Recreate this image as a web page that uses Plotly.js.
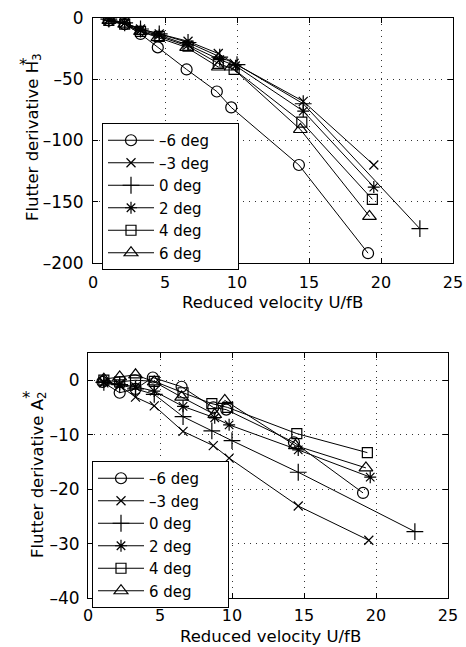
<!DOCTYPE html>
<html>
<head>
<meta charset="utf-8">
<script src="https://cdn.plot.ly/plotly-3.0.1.min.js"></script>
<style>html,body{margin:0;padding:0;background:#fff;}#chart{width:466px;height:647px;}</style>
</head>
<body>
<div id="chart"></div>
<script>
// Series labels
const seriesNames = ["\u20136 deg", "\u20133 deg", "0 deg", "2 deg", "4 deg", "6 deg"];

// Top panel: H3* vs reduced velocity
const h3_m6_x = [1.1, 2.2, 3.3, 4.5, 6.5, 8.6, 9.6, 14.3, 19.1];
const h3_m6_y = [-2, -5, -13, -24, -42, -60, -73, -120, -192];
const h3_m3_x = [1.1, 2.2, 3.3, 4.6, 6.6, 8.7, 9.8, 14.6, 19.5];
const h3_m3_y = [-1, -4, -9, -13, -19, -29, -37, -68, -120];
const h3_0_x  = [1.1, 2.2, 3.3, 4.6, 6.6, 8.8, 10.0, 14.6, 22.7];
const h3_0_y  = [-1, -4, -9, -13, -20, -32, -38, -70, -172];
const h3_2_x  = [1.1, 2.2, 3.3, 4.6, 6.6, 8.8, 9.9, 14.6, 19.5];
const h3_2_y  = [-2, -4, -10, -14, -22, -34, -39, -76, -138];
const h3_4_x  = [1.1, 2.2, 3.3, 4.6, 6.6, 8.7, 9.8, 14.5, 19.4];
const h3_4_y  = [-2, -5, -11, -15, -23, -37, -42, -85, -148];
const h3_6_x  = [1.1, 2.2, 3.3, 4.5, 6.5, 8.7, 9.6, 14.4, 19.2];
const h3_6_y  = [-2, -5, -11, -16, -24, -40, -40, -91, -162];

// Bottom panel: A2* vs reduced velocity
const a2_m6_x = [1.0, 2.2, 3.3, 4.5, 6.5, 8.7, 9.6, 14.3, 19.1];
const a2_m6_y = [-0.3, -2.3, -1.6, 0.5, -1.2, -5.0, -5.4, -11.4, -20.7];
const a2_m3_x = [1.1, 2.2, 3.3, 4.6, 6.6, 8.7, 9.8, 14.6, 19.5];
const a2_m3_y = [-0.5, -1.0, -3.1, -4.7, -9.4, -12.0, -14.3, -23.1, -29.4];
const a2_0_x  = [1.1, 2.2, 3.3, 4.6, 6.6, 8.6, 10.0, 14.6, 22.7];
const a2_0_y  = [-0.4, -0.8, -1.6, -2.6, -6.7, -9.3, -11.1, -16.9, -27.8];
const a2_2_x  = [1.1, 2.2, 3.3, 4.6, 6.6, 8.8, 9.8, 14.6, 19.6];
const a2_2_y  = [-0.3, -0.7, -1.2, -2.0, -4.8, -6.9, -8.2, -12.8, -17.8];
const a2_4_x  = [1.1, 2.2, 3.3, 4.6, 6.6, 8.6, 9.7, 14.5, 19.4];
const a2_4_y  = [0.0, -0.3, 0.0, -0.2, -2.3, -4.3, -5.0, -9.8, -13.3];
const a2_6_x  = [1.1, 2.2, 3.3, 4.6, 6.5, 8.8, 9.5, 14.4, 19.3];
const a2_6_y  = [0.2, 0.6, 1.0, -0.3, -3.1, -6.3, -3.7, -12.0, -16.1];

// Axis tick values
const xTicks = [0, 5, 10, 15, 20, 25];
const h3Ticks = [-200, -150, -100, -50, 0];
const a2Ticks = [-40, -30, -20, -10, 0];

const symbols = ["circle-open", "x-thin-open", "cross-thin-open", "asterisk-open", "square-open", "triangle-up-open"];
const sizes = [11, 9, 12, 10, 10, 12];

const topX = [h3_m6_x, h3_m3_x, h3_0_x, h3_2_x, h3_4_x, h3_6_x];
const topY = [h3_m6_y, h3_m3_y, h3_0_y, h3_2_y, h3_4_y, h3_6_y];
const botX = [a2_m6_x, a2_m3_x, a2_0_x, a2_2_x, a2_4_x, a2_6_x];
const botY = [a2_m6_y, a2_m3_y, a2_0_y, a2_2_y, a2_4_y, a2_6_y];

const PAD = '\u00a0\u00a0\u00a0\u00a0\u00a0';
const traces = [];
function addPanel(xs, ys, xax, yax, leg) {
  for (let i = 0; i < 6; i++) {
    traces.push({
      x: xs[i], y: ys[i], xaxis: xax, yaxis: yax, name: seriesNames[i] + PAD, legend: leg,
      mode: 'lines+markers', type: 'scatter',
      line: {color: '#000', width: 1},
      marker: {symbol: symbols[i], size: sizes[i], color: '#000', line: {color: '#000', width: 1.2}}
    });
  }
}
addPanel(topX, topY, 'x', 'y', 'legend');
addPanel(botX, botY, 'x2', 'y2', 'legend2');

const W = 466, H = 647;
const FAM = 'DejaVu Sans, sans-serif';
const yTickFont = {family: FAM, size: 17, color: '#000'};
const xTickFont = {family: FAM, size: 16, color: '#000'};
const titleFont = {family: FAM, size: 16.5, color: '#000'};
const fmt = v => v < 0 ? '\u2013' + Math.abs(v) : String(v);

function axisBase() {
  return {
    ticks: 'inside', ticklen: 5, tickcolor: '#000', showline: true, linecolor: '#000', linewidth: 1, mirror: 'ticks',
    showgrid: true, gridcolor: '#333', griddash: '1px,5px', gridwidth: 1, zeroline: false,
    automargin: false
  };
}
function xa(domain, anchor, standoff) {
  return Object.assign(axisBase(), {
    domain: domain, anchor: anchor, range: [0, 25], tickvals: xTicks, ticktext: xTicks.map(fmt),
    tickfont: xTickFont, ticklabelstandoff: standoff
  });
}
function ya(domain, anchor, range, ticks, standoff) {
  return Object.assign(axisBase(), {
    domain: domain, anchor: anchor, range: range, tickvals: ticks, ticktext: ticks.map(fmt),
    tickfont: yTickFont, ticklabelstandoff: standoff
  });
}

const legendStyle = (x, y) => ({
  x: x, y: y, xanchor: 'left', yanchor: 'top', xref: 'paper', yref: 'paper',
  bgcolor: '#fff', bordercolor: '#000', borderwidth: 1,
  font: {family: FAM, size: 15, color: '#000'},
  tracegroupgap: 0, itemwidth: 46
});

const ann = (text, px, py, rot, font) => ({
  text: text, x: px / W, y: 1 - py / H, xref: 'paper', yref: 'paper', showarrow: false,
  textangle: rot, font: font, xanchor: 'center', yanchor: 'middle'
});

const layout = {
  width: W, height: H, margin: {l: 0, r: 0, t: 0, b: 0},
  paper_bgcolor: '#fff', plot_bgcolor: '#fff', showlegend: true,
  xaxis: xa([93/W, 453/W], 'y', 5),
  yaxis: ya([1 - 263/H, 1 - 18/H], 'x', [-200, 0], h3Ticks, 5),
  xaxis2: xa([88/W, 448/W], 'y2', 3),
  yaxis2: ya([1 - 598/H, 1 - 353/H], 'x2', [-40, 5], a2Ticks, 4),
  legend: legendStyle(102/W, 1 - 123/H),
  legend2: legendStyle(92/W, 1 - 461/H),
  annotations: [
    ann('Reduced velocity U/fB', 272, 303, 0, titleFont),
    ann('Reduced velocity U/fB', 270, 636, 0, titleFont),
    ann('Flutter derivative H<sub>3</sub>', 33, 137, -90, titleFont),
    ann('*', 23, 65, 0, titleFont),
    ann('Flutter derivative A<sub>2</sub>', 38, 475, -90, titleFont),
    ann('*', 26, 397, 0, titleFont)
  ]
};

Plotly.newPlot('chart', traces, layout, {displayModeBar: false, staticPlot: true});
</script>
</body>
</html>
